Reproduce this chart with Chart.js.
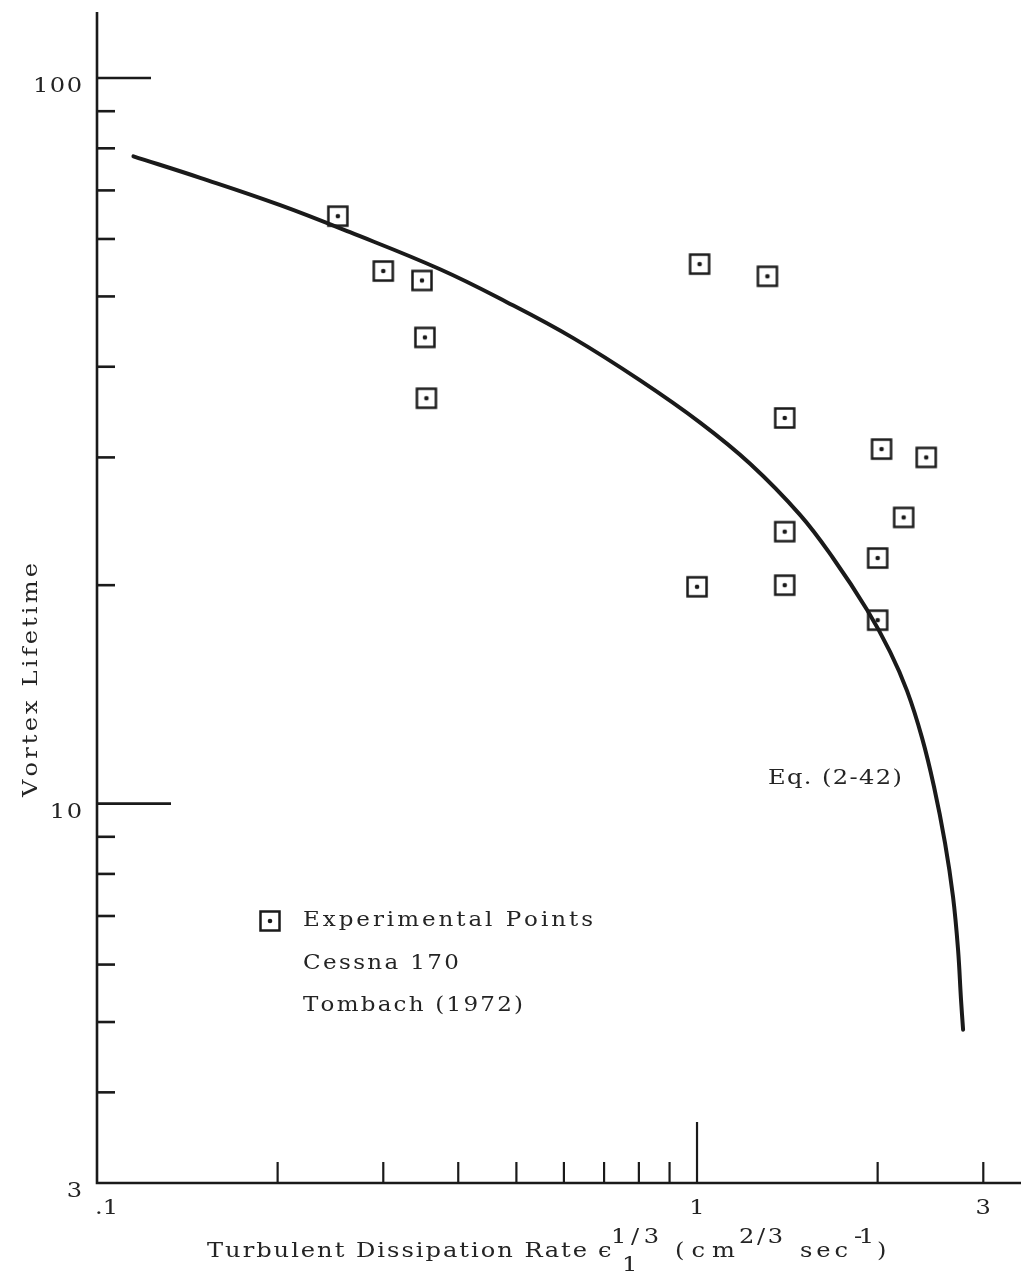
<!DOCTYPE html>
<html>
<head>
<meta charset="utf-8">
<script src="https://cdn.jsdelivr.net/npm/chart.js@4.4.1/dist/chart.umd.min.js"></script>
<style>
  html, body { margin: 0; padding: 0; background: #fff; overflow: hidden; }
  canvas { display: block; }
</style>
</head>
<body>
<canvas id="chart" width="1021" height="1273"></canvas>
<script>
// Eq. (2-42) curve
const curveX = [0.115, 0.149, 0.202, 0.264, 0.373, 0.482, 0.622, 0.804, 1.012, 1.226, 1.485,
  1.685, 1.92, 2.097, 2.239, 2.371, 2.483, 2.59, 2.671, 2.723, 2.754, 2.776];
const curveY = [78.0, 72.8, 66.8, 61.3, 54.5, 49.1, 43.8, 38.3, 33.5, 29.4, 25.0,
  21.8, 18.5, 16.2, 14.3, 12.33, 10.55, 8.83, 7.44, 6.29, 5.37, 4.88];

// experimental points, Cessna 170, Tombach (1972)
const pointX = [0.252, 0.30, 0.348, 0.352, 0.354, 1.01, 1.31, 1.40, 2.03, 2.41, 2.21, 1.40, 2.00, 1.00, 1.40, 2.00];
const pointY = [64.5, 54.2, 52.6, 43.9, 36.2, 55.4, 53.3, 34.0, 30.8, 30.0, 24.8, 23.7, 21.8, 19.9, 20.0, 17.9];

// axes
const xMin = 0.1, xMax = 3.467;
const yMin = 3, yMax = 123.3;
const xMinorTicks = [0.2, 0.3, 0.4, 0.5, 0.6, 0.7, 0.8, 0.9, 2, 3];
const xMajorTicks = [1];
const yMinorTicks = [90, 80, 70, 60, 50, 40, 30, 20, 9, 8, 7, 6, 5, 4];
const yMajorTicks = [100, 10];
const xTickValues = [0.1, 1, 3];
const xTickLabels = [".1", "1", "3"];
const yTickValues = [100, 10, 3];
const yTickLabels = ["100", "10", "3"];

const ink = "#1a1a1a";
const textInk = "#242424";
const fontFace = (size) => `${size}px "DejaVu Serif"`;
const stretch = 1.15;
const yMajorLength = { 100: 54, 10: 74 };

// square-with-dot marker
const marker = document.createElement("canvas");
marker.width = 26;
marker.height = 26;
(() => {
  const m = marker.getContext("2d");
  m.strokeStyle = ink;
  m.lineWidth = 2.5;
  m.strokeRect(3.5, 3.5, 19, 19);
  m.fillStyle = ink;
  m.beginPath();
  m.arc(13, 13, 2.3, 0, Math.PI * 2);
  m.fill();
})();

// typewriter look: wide glyphs spread over a given width
const naturalWidth = (ctx, text) =>
  [...text].reduce((s, c) => s + ctx.measureText(c).width * stretch, 0);

const spacedText = (ctx, text, x, y, width) => {
  const chars = [...text];
  const widths = chars.map((c) => ctx.measureText(c).width * stretch);
  const total = widths.reduce((a, b) => a + b, 0);
  const gap = chars.length > 1 ? (width - total) / (chars.length - 1) : 0;
  let cx = x;
  chars.forEach((c, i) => {
    ctx.save();
    ctx.translate(cx, y);
    ctx.scale(stretch, 1);
    ctx.fillText(c, 0, 0);
    ctx.restore();
    cx += widths[i] + gap;
  });
};

const line = (ctx, x1, y1, x2, y2) => {
  ctx.beginPath();
  ctx.moveTo(x1, y1);
  ctx.lineTo(x2, y2);
  ctx.stroke();
};

const axesPlugin = {
  id: "handAxes",
  afterDatasetsDraw(chart) {
    const { ctx, chartArea: a } = chart;
    const xs = chart.scales.x, ys = chart.scales.y;
    ctx.save();
    ctx.strokeStyle = ink;
    ctx.lineWidth = 2.6;
    ctx.beginPath();
    ctx.moveTo(a.left, a.top);
    ctx.lineTo(a.left, a.bottom);
    ctx.lineTo(a.right, a.bottom);
    ctx.stroke();

    yMinorTicks.forEach((v) => {
      const py = ys.getPixelForValue(v);
      line(ctx, a.left, py, a.left + 18, py);
    });
    yMajorTicks.forEach((v) => {
      const py = ys.getPixelForValue(v);
      line(ctx, a.left, py, a.left + yMajorLength[v], py);
    });
    ctx.lineWidth = 2.2;
    xMinorTicks.forEach((v) => {
      const px = xs.getPixelForValue(v);
      line(ctx, px, a.bottom, px, a.bottom - 21);
    });
    xMajorTicks.forEach((v) => {
      const px = xs.getPixelForValue(v);
      line(ctx, px, a.bottom, px, a.bottom - 61);
    });

    // tick labels
    ctx.fillStyle = textInk;
    ctx.font = fontFace(21);
    ctx.textBaseline = "alphabetic";
    yTickValues.forEach((v, i) => {
      const py = ys.getPixelForValue(v);
      const t = yTickLabels[i];
      const w = naturalWidth(ctx, t) + (t.length - 1) * 1.5;
      spacedText(ctx, t, a.left - 15 - w, py + 14, w);
    });
    xTickValues.forEach((v, i) => {
      const px = xs.getPixelForValue(v);
      const t = xTickLabels[i];
      const w = naturalWidth(ctx, t);
      const left = i === 0 ? px - 2 : px - w / 2;
      spacedText(ctx, t, left, a.bottom + 31, w);
    });
    ctx.restore();
  },
  afterDraw(chart) {
    const { ctx } = chart;
    ctx.save();
    ctx.fillStyle = textInk;
    ctx.font = fontFace(20);

    // legend
    ctx.drawImage(marker, 270 - 13, 921 - 13);
    spacedText(ctx, "Experimental Points", 303, 926, 290);
    spacedText(ctx, "Cessna 170", 303, 969, 156);
    spacedText(ctx, "Tombach (1972)", 303, 1011, 220);

    // curve label
    ctx.font = fontFace(21);
    spacedText(ctx, "Eq. (2-42)", 768, 784, 134);

    // y axis title
    ctx.save();
    ctx.translate(37, 797);
    ctx.rotate(-Math.PI / 2);
    spacedText(ctx, "Vortex Lifetime", 0, 0, 234);
    ctx.restore();

    // x axis title with super/subscripts
    const base = 1257, sup = 1243, sub = 1271;
    spacedText(ctx, "Turbulent Dissipation Rate", 207, base, 380);
    spacedText(ctx, "\u03f5", 598, base, 0);
    spacedText(ctx, "1/3", 611, sup, 48);
    spacedText(ctx, "1", 622, sub, 0);
    spacedText(ctx, "(cm", 675, base, 60);
    spacedText(ctx, "2/3", 739, sup, 44);
    spacedText(ctx, "sec", 800, base, 48);
    spacedText(ctx, "-1", 854, sup, 20);
    spacedText(ctx, ")", 877, base, 0);
    ctx.restore();
  },
};

new Chart(document.getElementById("chart"), {
  type: "scatter",
  data: {
    datasets: [
      {
        type: "line",
        label: "Eq. (2-42)",
        data: curveX.map((x, i) => ({ x: x, y: curveY[i] })),
        borderColor: ink,
        borderWidth: 4,
        borderCapStyle: "round",
        pointRadius: 0,
        fill: false,
        tension: 0.4,
      },
      {
        label: "Experimental Points",
        data: pointX.map((x, i) => ({ x: x, y: pointY[i] })),
        pointStyle: marker,
        pointRadius: 12,
      },
    ],
  },
  options: {
    responsive: false,
    animation: false,
    devicePixelRatio: 1,
    layout: { autoPadding: false, padding: { left: 97, top: 12, right: 0, bottom: 90 } },
    scales: {
      x: { type: "logarithmic", min: xMin, max: xMax, display: false },
      y: { type: "logarithmic", min: yMin, max: yMax, display: false },
    },
    plugins: {
      legend: { display: false },
      tooltip: { enabled: false },
    },
  },
  plugins: [axesPlugin],
});
</script>
</body>
</html>
